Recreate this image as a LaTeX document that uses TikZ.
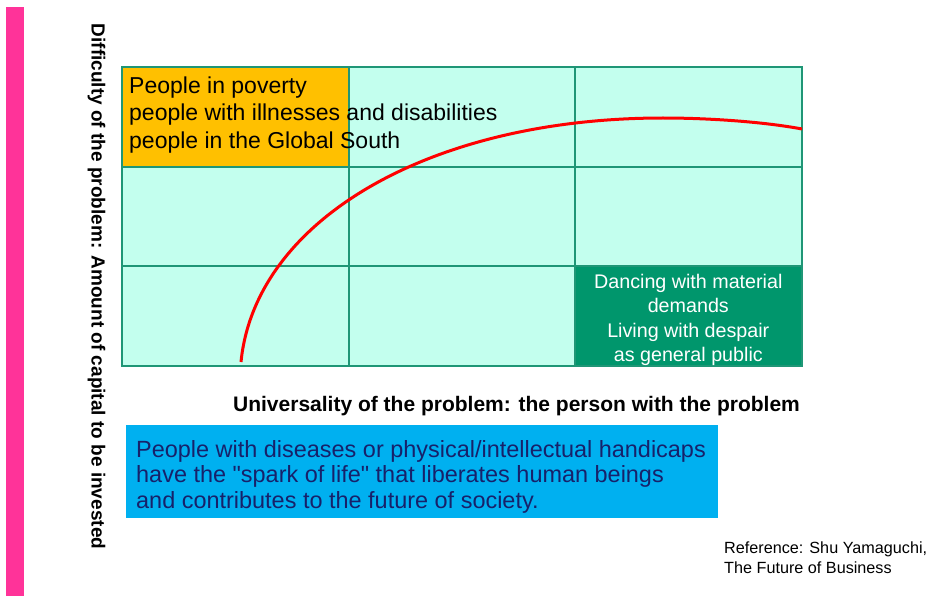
\documentclass[tikz,border=0pt]{standalone}
\usepackage{fontspec}
\setmainfont{Liberation Sans}[Ligatures=TeXOff]
\usetikzlibrary{positioning}
\definecolor{pinkbar}{HTML}{FF3399}
\definecolor{mint}{HTML}{C3FFEE}
\definecolor{gridgreen}{HTML}{1F9676}
\definecolor{amber}{HTML}{FFC000}
\definecolor{deepgreen}{HTML}{00966C}
\definecolor{skyblue}{HTML}{00B0F0}
\definecolor{navy}{HTML}{17216A}

\begin{document}
\begin{tikzpicture}[x=1pt,y=-1pt,node distance=0pt]
  \tikzstyle{cell}=[draw=gridgreen,fill=mint,line width=1.8pt,inner sep=0pt,outer sep=0pt,minimum width=226.7pt,minimum height=99.7pt]
  \tikzstyle{words}=[inner sep=0pt,align=left,font=\fontsize{23}{27.5}\selectfont]
  \tikzstyle{curve}=[red,line width=3pt]

  \useasboundingbox (0,0) rectangle (936,596);
  \fill[pinkbar] (6,7) rectangle (24,596);

  \node[cell,fill=amber] (A) at (235.3,116.8) {};
  \node[cell]            (B) [right=of A] {};
  \node[cell]            (C) [right=of B] {};
  \node[cell]            (D) [below=of A] {};
  \node[cell]            (E) [right=of D] {};
  \node[cell]            (F) [right=of E] {};
  \node[cell]            (G) [below=of D] {};
  \node[cell]            (H) [right=of G] {};
  \node[cell,fill=deepgreen] (I) [right=of H] {};

  \draw[curve] (241,362) .. controls (255,220) and (430,118) .. (663,118)
                         .. controls (710,118) and (765,122) .. (802,129);

  \node[words,anchor=north west] (poor) at (129,76.5)
    {People in poverty\\people with illnesses and disabilities\\people in the Global South};
  \node[words,align=center,text=white,anchor=north,font=\fontsize{19.7}{24.5}\selectfont] (dance) at (688.3,274)
    {Dancing with material\\demands\\Living with despair\\as general public};

  \node[fill=skyblue,inner sep=0pt,minimum width=592pt,minimum height=93pt,anchor=north west] (note) at (126,425) {};
  \node[words,text=navy,font=\fontsize{23.45}{25.5}\selectfont] (spark) [below right=15.2pt and 10pt of note.north west]
    {People with diseases or physical/intellectual handicaps\\have the "spark of life" that liberates human beings\\and contributes to the future of society.};

  \node[inner sep=0pt,anchor=base,font=\bfseries\fontsize{21}{25}\selectfont] (xaxis) at (516.5,411)
    {Universality of the problem: the person with the problem};
  \node[inner sep=0pt,rotate=-90,font=\bfseries\fontsize{19}{23}\selectfont] (yaxis) at (96.5,286.5)
    {Difficulty of the problem: Amount of capital to be invested};
  \node[words,anchor=north west,font=\fontsize{16.2}{20}\selectfont] (ref) at (724,541.4)
    {Reference: Shu Yamaguchi,\\The Future of Business};
\end{tikzpicture}
\end{document}
